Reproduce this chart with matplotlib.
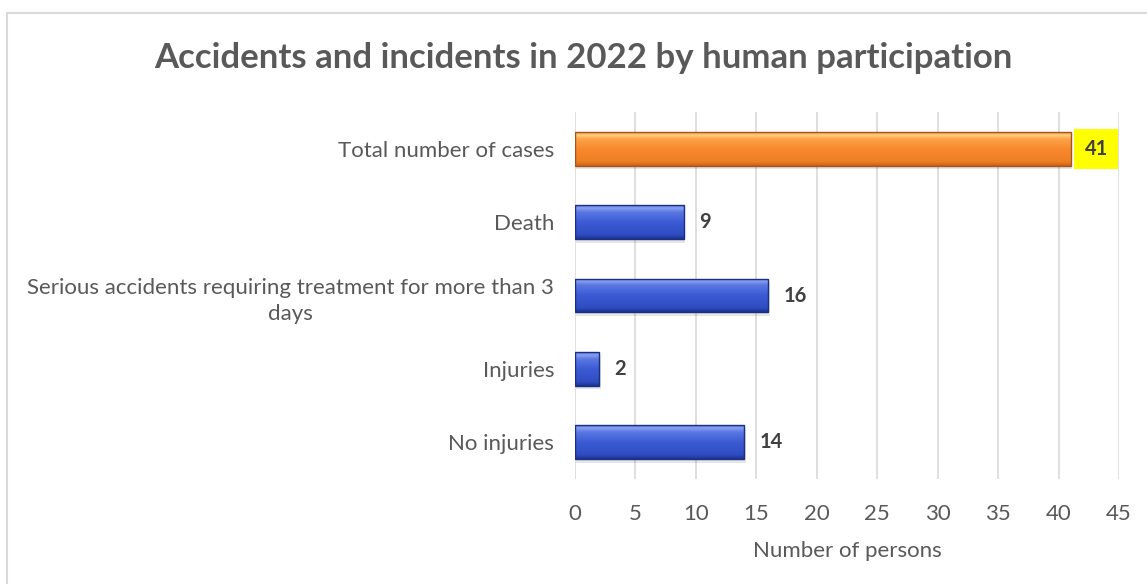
import matplotlib
matplotlib.use("Agg")
import matplotlib.pyplot as plt
import numpy as np
from matplotlib.patches import Rectangle
from matplotlib.colors import LinearSegmentedColormap

categories = ["Total number of cases", "Death",
              "Serious accidents requiring treatment for more than 3\ndays",
              "Injuries", "No injuries"]
values = [41, 9, 16, 2, 14]
is_total = [True, False, False, False, False]
x_ticks = [0, 5, 10, 15, 20, 25, 30, 35, 40, 45]

plt.rcParams['font.family'] = ['Lato', 'DejaVu Sans']

fig = plt.figure(figsize=(11.47, 5.84), dpi=100)
ax = fig.add_axes([0.5013, 0.1798, 0.4743, 0.6284])

# chart border (only top and left edges visible)
fig.patches.append(Rectangle((7.5/1147, -0.1), 1.2, 1 - 13.5/584 + 0.1,
                             transform=fig.transFigure, fill=False,
                             edgecolor='#d9d9d9', linewidth=1.5))

ypos = np.arange(len(categories))
bar_h = 0.46

orange_cmap = LinearSegmentedColormap.from_list(
    'o', [(0, '#c9611c'), (0.12, '#ee7e22'), (0.5, '#f88a2c'), (0.8, '#fda24a'), (0.92, '#ffcf7a'), (1, '#f49a44')])
blue_cmap = LinearSegmentedColormap.from_list(
    'b', [(0, '#1c3290'), (0.12, '#2f4cc2'), (0.5, '#3c5bd4'), (0.8, '#5a78e2'), (0.92, '#8aa2f2'), (1, '#5a75e0')])

bars = ax.barh(ypos, values, height=bar_h, color='none', zorder=3)
grad = np.linspace(0, 1, 100).reshape(-1, 1)
for b, tot in zip(bars, is_total):
    x0, y0 = b.get_x(), b.get_y()
    w, h = b.get_width(), b.get_height()
    # soft shadow
    ax.add_patch(Rectangle((x0 + 0.12, y0 + 0.05), w, h, facecolor='#000000', alpha=0.10,
                           edgecolor='none', zorder=2))
    cmap = orange_cmap if tot else blue_cmap
    im = ax.imshow(grad, cmap=cmap, aspect='auto', extent=(x0, x0 + w, y0 + h, y0),
                   origin='lower', zorder=3, interpolation='bicubic')
    im.set_clip_path(b)
    edge = '#a3561a' if tot else '#1a2f80'
    ax.add_patch(Rectangle((x0, y0), w, h, fill=False, edgecolor=edge,
                           linewidth=1.0, zorder=4))

for v, y, tot in zip(values, ypos, is_total):
    if tot:
        ax.annotate(str(v), (v, y), xytext=(10, 0), textcoords='offset points',
                    ha='left', va='center', fontsize=14.5, fontweight='bold', color='#404040',
                    bbox=dict(boxstyle='square,pad=0.5', facecolor='#ffff00', edgecolor='none'))
    else:
        ax.annotate(str(v), (v, y), xytext=(11, 0), textcoords='offset points',
                    ha='left', va='center', fontsize=14.5, fontweight='bold', color='#404040')

ax.set_xlim(0, 45)
ax.set_ylim(len(categories) - 0.5, -0.5)
ax.set_xticks(x_ticks)
ax.set_yticks(ypos)
ax.set_yticklabels(categories, fontsize=16, color='#595959', ha='right',
                   linespacing=1.4)
for lbl in ax.get_yticklabels():
    lbl.set_multialignment('center')
ax.tick_params(axis='y', length=0, pad=15)
ax.tick_params(axis='x', length=0, pad=18, labelsize=16, labelcolor='#595959')
ax.xaxis.grid(True, color='#d9d9d9', linewidth=1.2, zorder=0)
ax.set_axisbelow(True)
for s in ax.spines.values():
    s.set_visible(False)
ax.set_xlabel("Number of persons", fontsize=16, color='#595959', labelpad=12)

fig.text(0.509, 0.900, "Accidents and incidents in 2022 by human participation",
         ha='center', va='center', fontsize=25, fontweight='bold', color='#595959')

fig.savefig("out.png", dpi=100)
